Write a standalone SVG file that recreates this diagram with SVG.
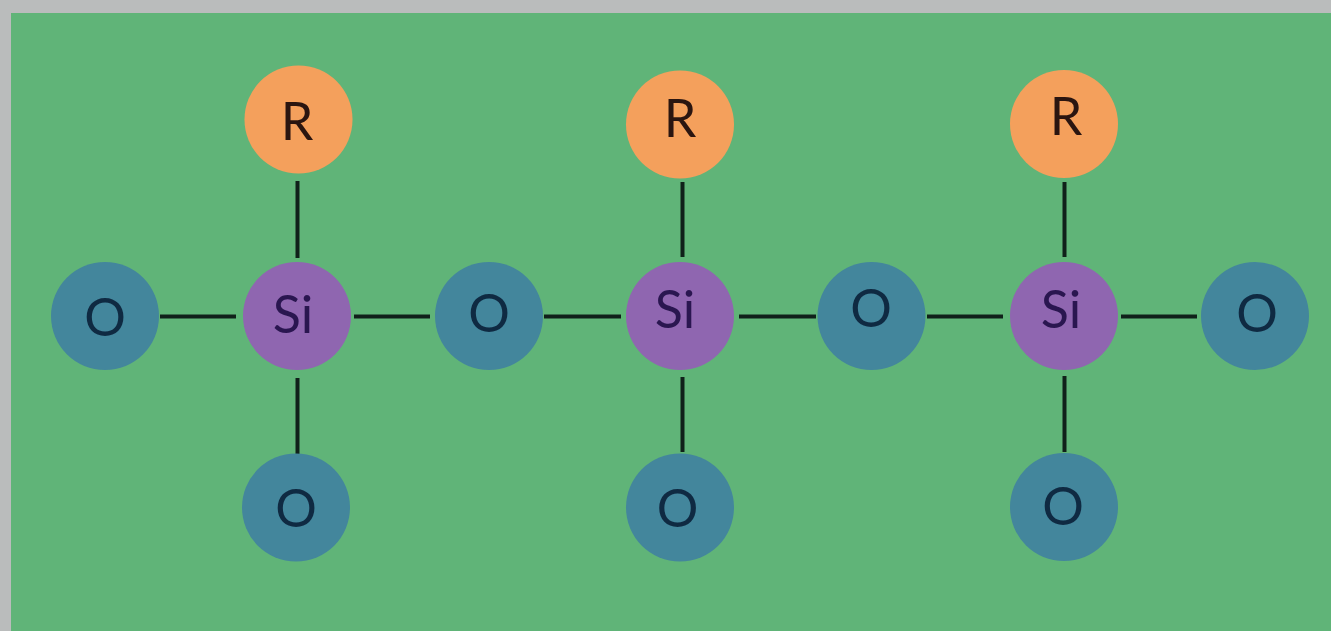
<svg xmlns="http://www.w3.org/2000/svg" width="1331" height="631" viewBox="0 0 1331 631">
<style>
.r{fill:#f4a05c}.s{fill:#8f66b0}.o{fill:#43869c}
text{font-family:"Lato","Liberation Sans",sans-serif;font-size:52px;text-anchor:middle}
.rt{fill:#2a1510}.st{fill:#2a1650}.ot{fill:#0f2a42}
#connectors line{stroke:#10201a;stroke-width:4}
</style>
<rect width="1331" height="631" fill="#babcbc"/>
<rect x="11" y="13" width="1320" height="618" fill="#60b478"/>
<g id="connectors">
<line x1="297.5" y1="181" x2="297.5" y2="258"/><line x1="682.5" y1="182" x2="682.5" y2="257"/><line x1="1064.5" y1="182" x2="1064.5" y2="257"/>
<line x1="297.5" y1="378" x2="297.5" y2="455"/><line x1="682.5" y1="377" x2="682.5" y2="452"/><line x1="1064.5" y1="376" x2="1064.5" y2="452"/>
<line x1="160" y1="316.5" x2="236" y2="316.5"/><line x1="354" y1="316.5" x2="430" y2="316.5"/><line x1="544" y1="316.5" x2="621" y2="316.5"/><line x1="739" y1="316.5" x2="816" y2="316.5"/><line x1="927" y1="316.5" x2="1003" y2="316.5"/><line x1="1121" y1="316.5" x2="1197" y2="316.5"/>
</g>
<g id="r1"><circle class="r" cx="298.5" cy="119.5" r="54"/><text class="rt" x="297" y="140">R</text></g>
<g id="r2"><circle class="r" cx="680" cy="124.5" r="54"/><text class="rt" x="680" y="137">R</text></g>
<g id="r3"><circle class="r" cx="1064" cy="124" r="54"/><text class="rt" x="1066" y="135">R</text></g>
<g id="si1"><circle class="s" cx="297" cy="316" r="54"/><text class="st" x="293" y="333">Si</text></g>
<g id="si2"><circle class="s" cx="680" cy="316" r="54"/><text class="st" x="675" y="328">Si</text></g>
<g id="si3"><circle class="s" cx="1064" cy="316" r="54"/><text class="st" x="1061" y="328">Si</text></g>
<g id="o1"><circle class="o" cx="105" cy="316" r="54"/><text class="ot" x="105" y="336">O</text></g>
<g id="o2"><circle class="o" cx="489" cy="316" r="54"/><text class="ot" x="489" y="332">O</text></g>
<g id="o3"><circle class="o" cx="871.5" cy="316" r="54"/><text class="ot" x="871" y="327">O</text></g>
<g id="o4"><circle class="o" cx="1255" cy="316" r="54"/><text class="ot" x="1257" y="332">O</text></g>
<g id="o5"><circle class="o" cx="296" cy="507.5" r="54"/><text class="ot" x="296" y="527">O</text></g>
<g id="o6"><circle class="o" cx="680" cy="507.5" r="54"/><text class="ot" x="677.5" y="527">O</text></g>
<g id="o7"><circle class="o" cx="1064" cy="507" r="54"/><text class="ot" x="1063" y="525">O</text></g>
</svg>
